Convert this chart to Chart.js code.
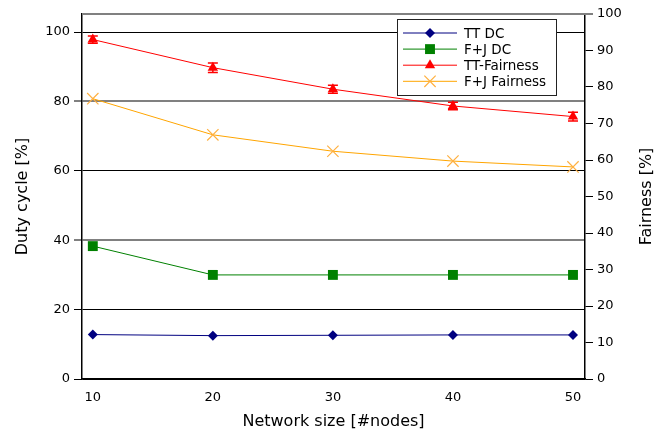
<!DOCTYPE html>
<html>
<head>
<meta charset="utf-8">
<script src="https://cdn.jsdelivr.net/npm/chart.js@4/dist/chart.umd.min.js"></script>
<style>
html,body{margin:0;padding:0;background:#fff;}
#wrap{width:667px;height:435px;}
</style>
</head>
<body>
<div id="wrap"><canvas id="c" width="667" height="435"></canvas></div>
<script>
// ---- data ----
const networkSizes = [10, 20, 30, 40, 50];
const ttDC = [12.8, 12.5, 12.6, 12.7, 12.7];
const fjDC = [38.3, 30.0, 30.0, 30.0, 30.0];
const ttFairness = [93.0, 85.3, 79.4, 74.8, 71.9];
const ttFairnessErr = [1.0, 1.3, 1.1, 1.0, 1.2];
const fjFairness = [76.8, 66.9, 62.4, 59.7, 58.1];
const xTicks = [10, 20, 30, 40, 50];
const leftTicks = [0, 20, 40, 60, 80, 100];
const rightTicks = [0, 10, 20, 30, 40, 50, 60, 70, 80, 90, 100];
const legendLabels = ['TT DC', 'F+J DC', 'TT-Fairness', 'F+J Fairness'];
const rightTitle = 'Fairness [%]';

const pts = (ys) => networkSizes.map((x, i) => ({x: x, y: ys[i]}));
const FONT = "'DejaVu Sans', sans-serif";

const datasets = [
  {label: legendLabels[0], data: pts(ttDC), yAxisID: 'y', borderColor: '#000080', backgroundColor: '#000080',
   pointStyle: 'rectRot', pointRadius: 5, borderWidth: 1, pointBorderWidth: 0},
  {label: legendLabels[1], data: pts(fjDC), yAxisID: 'y', borderColor: '#008000', backgroundColor: '#008000',
   pointStyle: 'rect', pointRadius: 7, borderWidth: 1, pointBorderWidth: 0},
  {label: legendLabels[2], data: pts(ttFairness), yAxisID: 'y2', borderColor: '#ff0000', backgroundColor: '#ff0000',
   pointStyle: 'triangle', pointRadius: 6, borderWidth: 1, pointBorderWidth: 0, errors: ttFairnessErr},
  {label: legendLabels[3], data: pts(fjFairness), yAxisID: 'y2', borderColor: '#ffa500', backgroundColor: '#ffa500',
   pointStyle: 'crossRot', pointRadius: 8, borderWidth: 1, pointBorderWidth: 1.2, pointBorderColor: '#ffb040'}
];
datasets.forEach(d => { d.tension = 0; d.fill = false; d.pointHoverRadius = d.pointRadius; });

const errorBars = {
  id: 'errorBars',
  afterDatasetsDraw(chart) {
    const ctx = chart.ctx;
    chart.data.datasets.forEach((ds, di) => {
      if (!ds.errors) return;
      const ys = chart.scales[ds.yAxisID];
      const xs = chart.scales.x;
      ctx.save();
      ctx.strokeStyle = ds.borderColor;
      ctx.lineWidth = 1.5;
      ds.data.forEach((p, i) => {
        const px = xs.getPixelForValue(p.x);
        const top = ys.getPixelForValue(p.y + ds.errors[i]);
        const bot = ys.getPixelForValue(p.y - ds.errors[i]);
        ctx.beginPath();
        ctx.moveTo(px, top); ctx.lineTo(px, bot);
        ctx.moveTo(px - 5, top); ctx.lineTo(px + 5, top);
        ctx.moveTo(px - 5, bot); ctx.lineTo(px + 5, bot);
        ctx.stroke();
      });
      ctx.restore();
    });
  }
};

const frame = {
  id: 'frame',
  afterDraw(chart) {
    const a = chart.chartArea, ctx = chart.ctx;
    ctx.save();
    ctx.strokeStyle = '#808080';
    ctx.lineWidth = 2;
    ctx.beginPath();
    ctx.moveTo(a.left, a.top); ctx.lineTo(a.right + 8, a.top);
    ctx.stroke();
    // right axis title, reading bottom-to-top
    ctx.fillStyle = '#000';
    ctx.font = '16px ' + FONT;
    ctx.textAlign = 'center';
    ctx.textBaseline = 'middle';
    ctx.translate(647, (a.top + a.bottom) / 2);
    ctx.rotate(-Math.PI / 2);
    ctx.fillText(rightTitle, 0, 0);
    ctx.restore();
  }
};

const customLegend = {
  id: 'customLegend',
  afterDraw(chart) {
    const ctx = chart.ctx;
    const bx = 397.5, by = 19.5, bw = 159, bh = 76;
    ctx.save();
    ctx.fillStyle = '#ffffff';
    ctx.fillRect(bx, by, bw, bh);
    ctx.strokeStyle = '#222';
    ctx.lineWidth = 1;
    ctx.strokeRect(bx, by, bw, bh);
    ctx.font = '13.5px ' + FONT;
    ctx.textBaseline = 'middle';
    ctx.textAlign = 'left';
    chart.data.datasets.forEach((ds, i) => {
      const y = 33 + i * 16.1;
      ctx.strokeStyle = ds.borderColor;
      ctx.lineWidth = 1;
      ctx.beginPath();
      ctx.moveTo(403, y); ctx.lineTo(457, y);
      ctx.stroke();
      ctx.fillStyle = ds.backgroundColor;
      ctx.strokeStyle = ds.pointBorderColor || ds.borderColor;
      ctx.lineWidth = ds.pointBorderWidth || 0.01;
      Chart.helpers.drawPoint(ctx, {pointStyle: ds.pointStyle, radius: ds.pointRadius, rotation: 0, borderWidth: ds.pointBorderWidth}, 430, y);
      ctx.fillStyle = '#000';
      ctx.fillText(legendLabels[i], 464, y + 1);
    });
    ctx.restore();
  }
};

new Chart(document.getElementById('c'), {
  type: 'line',
  data: {datasets: datasets},
  plugins: [errorBars, frame, customLegend],
  options: {
    responsive: false,
    animation: false,
    devicePixelRatio: 1,
    layout: {padding: {top: 14, left: 0, right: 0, bottom: 0}},
    plugins: {legend: {display: false}, tooltip: {enabled: false}},
    scales: {
      x: {
        type: 'linear', min: 9.1, max: 51,
        afterBuildTicks: s => { s.ticks = xTicks.map(v => ({value: v})); },
        afterFit: s => { s.height = 56; },
        grid: {display: false},
        border: {display: true, color: '#000', width: 1.5},
        ticks: {color: '#000', font: {family: FONT, size: 13}, padding: 3, maxRotation: 0},
        title: {display: true, text: 'Network size [#nodes]', color: '#000', font: {family: FONT, size: 16}, padding: {top: 0, bottom: 4}}
      },
      y: {
        type: 'linear', position: 'left', min: 0, max: 105.2,
        afterBuildTicks: s => { s.ticks = leftTicks.map(v => ({value: v})); },
        afterFit: s => { s.width = 82; },
        grid: {
          display: true, drawOnChartArea: true, drawTicks: true, tickLength: 8,
          color: c => (c.tick && (c.tick.value === 40 || c.tick.value === 80)) ? '#808080' : '#000',
          lineWidth: c => (c.tick && (c.tick.value === 40 || c.tick.value === 80)) ? 2 : 1
        },
        border: {display: true, color: '#000', width: 1.5},
        ticks: {color: '#000', font: {family: FONT, size: 13}, padding: 4},
        title: {display: true, text: 'Duty cycle [%]', color: '#000', font: {family: FONT, size: 16}, padding: {top: 13, bottom: 0}}
      },
      y2: {
        type: 'linear', position: 'right', min: 0, max: 100,
        afterBuildTicks: s => { s.ticks = rightTicks.map(v => ({value: v})); },
        afterFit: s => { s.width = 82; },
        grid: {display: true, drawOnChartArea: false, drawTicks: true, tickLength: 8, color: '#000', lineWidth: 1},
        border: {display: true, color: '#000', width: 1.5},
        ticks: {color: '#000', font: {family: FONT, size: 13}, padding: 4},
        title: {display: false}
      }
    }
  }
});
</script>
</body>
</html>
